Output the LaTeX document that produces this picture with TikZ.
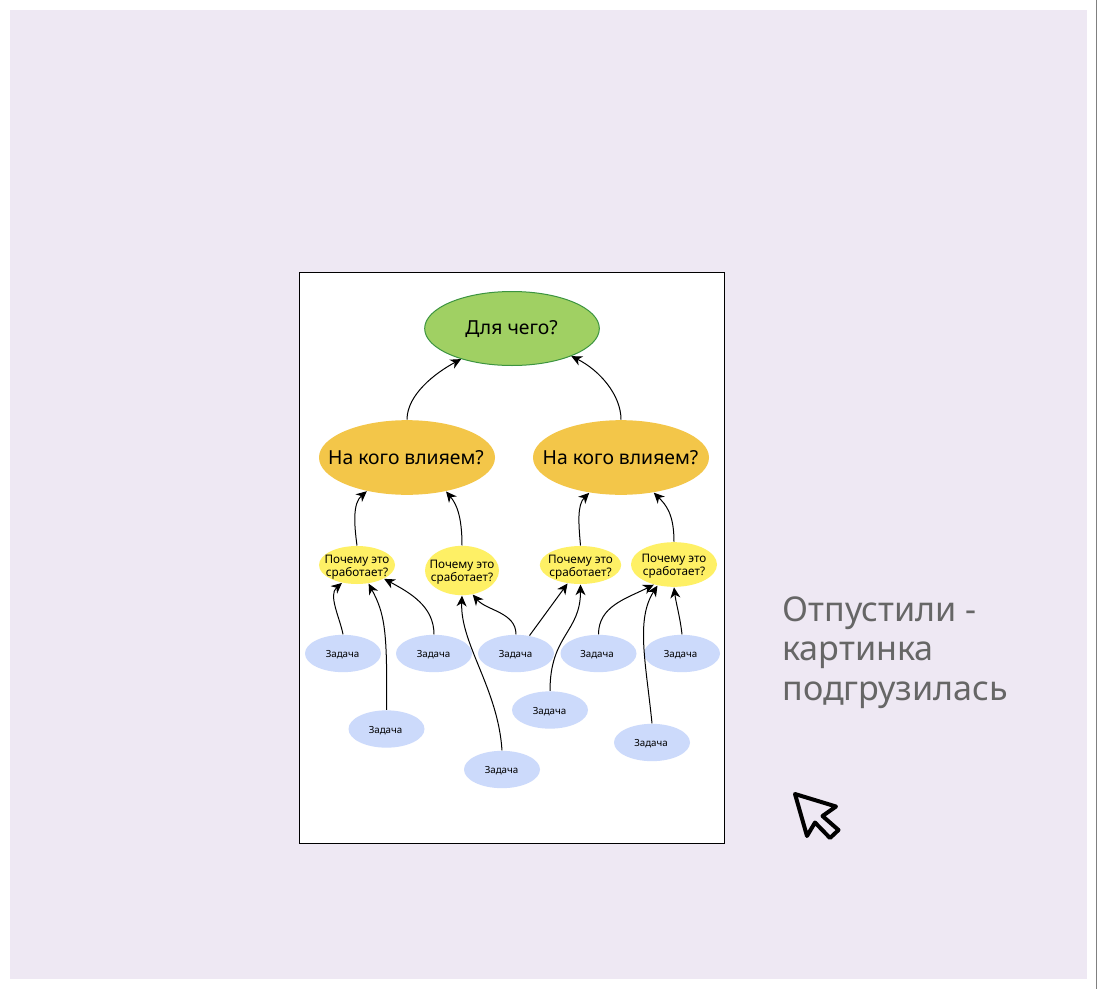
\documentclass[tikz,border=0pt]{standalone}
\usepackage{fontspec}
\setmainfont{Noto Sans}
\usetikzlibrary{shapes.geometric,arrows.meta}

\definecolor{pageBg}{HTML}{EEE8F3}
\definecolor{goalFill}{HTML}{A0D063}
\definecolor{goalLine}{HTML}{3C9440}
\definecolor{whoFill}{HTML}{F3C649}
\definecolor{whyFill}{HTML}{FEF065}
\definecolor{taskFill}{HTML}{CCDAFB}
\definecolor{noteGray}{HTML}{666666}

\tikzset{every picture/.style={line width=0.75pt},
  goal/.style={ellipse,fill=goalFill,draw=goalLine,minimum width=131pt,minimum height=55.5pt,inner sep=0pt},
  who/.style={ellipse,fill=whoFill,minimum width=132pt,minimum height=56pt,inner sep=0pt},
  why/.style={ellipse,fill=whyFill,inner sep=0pt},
  task/.style={ellipse,fill=taskFill,minimum width=57pt,minimum height=28pt,inner sep=0pt},
  bigLabel/.style={inner sep=0pt,font=\fontsize{14.5}{17}\selectfont},
  whyLabel/.style={inner sep=0pt,align=center,font=\fontsize{8.8}{10}\selectfont},
  taskLabel/.style={inner sep=0pt,font=\fontsize{7.3}{9}\selectfont},
  link/.style={draw=black,line width=0.75pt,-{Stealth[length=8pt,width=7.5pt,inset=2.5pt]}}
}

\begin{document}
\begin{tikzpicture}[x=0.75pt,y=0.75pt,yscale=-1,xscale=1]
\useasboundingbox (0,0) rectangle (1097,989);

%Shape: Rectangle
\fill [pageBg] (10,10) rectangle (1087,979);
%Straight Lines
\draw [color=gray,line width=1pt] (1096.5,0) -- (1096.5,989);
%Shape: Rectangle
\draw [fill=white,line width=0.6pt] (299.5,272.5) rectangle (724.5,843);

%Shape: Ellipse
\node [goal] (goalTop) at (512,328.5) {};
\node [who] (whoLeft) at (407,457.5) {};
\node [who] (whoRight) at (621,457.5) {};

%Shape: Ellipse
\node [why,minimum width=57pt,minimum height=28.5pt] (whyA) at (357,565) {};
\node [why,minimum width=55.5pt,minimum height=37pt] (whyB) at (462,570.5) {};
\node [why,minimum width=61pt,minimum height=28.5pt] (whyC) at (580.5,565) {};
\node [why,minimum width=64.5pt,minimum height=33.5pt] (whyD) at (674,564.5) {};

%Shape: Ellipse
\node [task] (taskA) at (343,653.5) {};
\node [task] (taskB) at (434,653.5) {};
\node [task] (taskC) at (516,653.5) {};
\node [task] (taskD) at (598.5,653.5) {};
\node [task] (taskE) at (682,653.5) {};
\node [task] (taskF) at (386.5,729) {};
\node [task] (taskG) at (550,710) {};
\node [task] (taskH) at (652,742.5) {};
\node [task] (taskI) at (502,769.5) {};

%Curve Lines
\draw [link] (whoLeft.north) .. controls +(0,-25) and +(-26,14) .. (goalTop.211);
\draw [link] (whoRight.north) .. controls +(0,-25) and +(28,14) .. (goalTop.335);

%Curve Lines
\draw [link] (whyA.north) .. controls +(-3,-22) and +(-14,12) .. (whoLeft.220);
\draw [link] (whyB.north) .. controls +(0,-30) and +(10,12) .. (whoLeft.319);
\draw [link] (whyC.north) .. controls +(-2,-22) and +(-12,12) .. (whoRight.228);
\draw [link] (whyD.north) .. controls +(0,-28) and +(12,12) .. (whoRight.313);

%Curve Lines
\draw [link] (taskA.north) .. controls +(-3,-16) and +(-14,12) .. (whyA.230);
\draw [link] (taskF.north) .. controls +(1,-80) and +(16,30) .. (whyA.302);
\draw [link] (taskB.north) .. controls +(0,-28) and +(26,14) .. (whyA.333);
\draw [link] (taskC.north) .. controls +(0,-22) and +(14,16) .. (whyB.294);
\draw [link] (taskI.north) .. controls +(-4,-62) and +(-2,48) .. (whyB.south);
\draw [link] (taskC.53) -- (whyC.235);
\draw [link] (taskG.north) .. controls +(0,-56) and +(0,48) .. (whyC.south);
\draw [link] (taskD.north) .. controls +(0,-28) and +(-28,14) .. (whyD.225);
\draw [link] (taskH.north) .. controls +(-6,-60) and +(-22,34) .. (whyD.232);
\draw [link] (taskE.north) .. controls +(-2,-18) and +(2,16) .. (whyD.south);

% Text Node
\node [bigLabel] (goalText) at (511.5,329) {Для чего?};
\node [bigLabel] (whoLeftText) at (406,457.5) {На кого влияем?};
\node [bigLabel] (whoRightText) at (620.5,457.5) {На кого влияем?};
% Text Node
\node [whyLabel] (whyAText) at (357,567) {Почему это\\сработает?};
\node [whyLabel] (whyBText) at (462,572.5) {Почему это\\сработает?};
\node [whyLabel] (whyCText) at (580.5,567) {Почему это\\сработает?};
\node [whyLabel] (whyDText) at (674,566) {Почему это\\сработает?};
% Text Node
\node [taskLabel] (taskAText) at (342.5,655) {Задача};
\node [taskLabel] (taskBText) at (433.5,655) {Задача};
\node [taskLabel] (taskCText) at (515.5,655) {Задача};
\node [taskLabel] (taskDText) at (597,655) {Задача};
\node [taskLabel] (taskEText) at (680.5,655) {Задача};
\node [taskLabel] (taskFText) at (385.5,730.5) {Задача};
\node [taskLabel] (taskGText) at (549.5,711.5) {Задача};
\node [taskLabel] (taskHText) at (651,743.5) {Задача};
\node [taskLabel] (taskIText) at (501.5,771) {Задача};
% Text Node
\node [anchor=north west,inner sep=0pt,align=left,text=noteGray,font=\fontsize{25.6}{29.6}\selectfont] (noteText) at (782,596) {Отпустили -\\картинка\\подгрузилась};

%Shape: Polygon
\draw [line width=3pt,line join=round,fill=pageBg] (795,794) -- (836,806.5) -- (822.5,816) -- (838.5,830) -- (830,838) -- (815,822.5) -- (807,836) -- cycle;

\end{tikzpicture}
\end{document}
